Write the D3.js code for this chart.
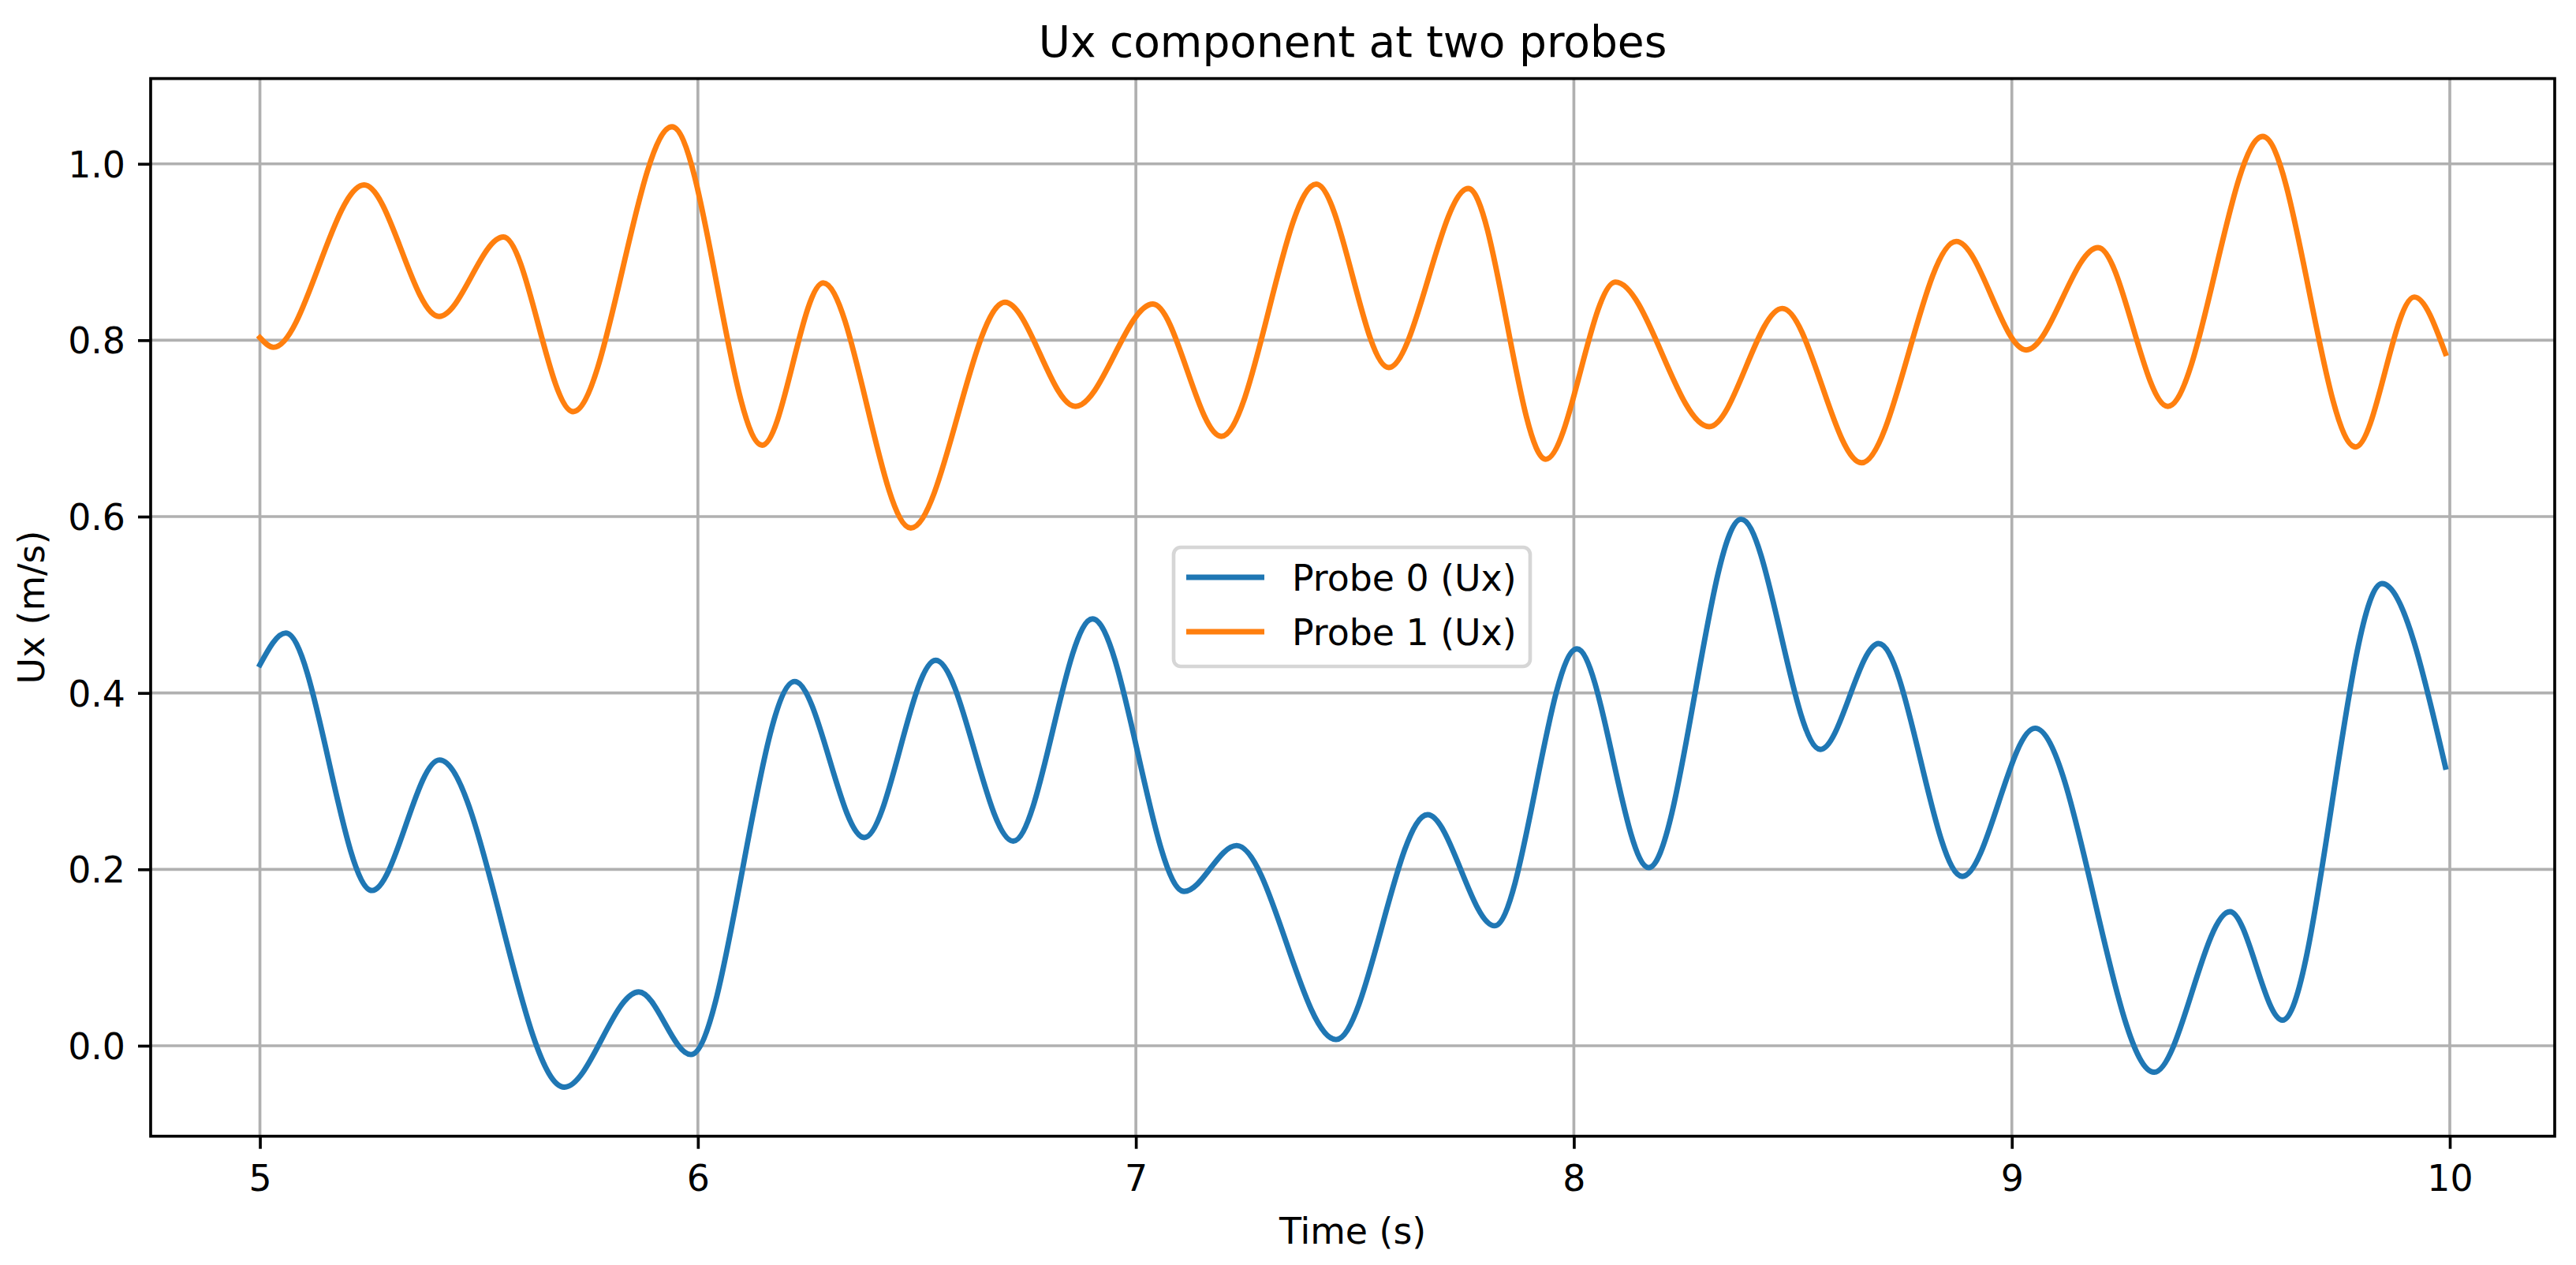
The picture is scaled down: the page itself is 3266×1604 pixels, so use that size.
<!DOCTYPE html>
<html>
<head>
    <style>
        body { margin: 0; background: white; }
        svg { display: block; }
        text { font-family: "DejaVu Sans", sans-serif; fill: black; }
    </style>
</head>
<body>
    <script src="https://d3js.org/d3.v7.min.js"></script>

    <script>
        const width = 3266;
        const height = 1604;

        // plot area (px)
        const pLeft = 191, pRight = 3239, pTop = 99.6, pBottom = 1440.7;

        // data (turning points of each trace)
        const time0 = [5.000, 5.059, 5.256, 5.410, 5.695, 5.865, 5.984, 6.221, 6.380, 6.543,
                       6.720, 6.901, 7.110, 7.230, 7.457, 7.666, 7.819, 8.007, 8.171,
                       8.382, 8.563, 8.696, 8.887, 9.053, 9.325, 9.498, 9.618, 9.845, 9.990];
        const probe0 = [0.432, 0.468, 0.176, 0.324, -0.047, 0.061, -0.010, 0.413, 0.236, 0.437,
                        0.232, 0.484, 0.175, 0.227, 0.007, 0.262, 0.136, 0.450, 0.202,
                        0.597, 0.336, 0.456, 0.192, 0.360, -0.030, 0.152, 0.029, 0.524, 0.316];

        const time1 = [5.000, 5.031, 5.238, 5.409, 5.556, 5.715, 5.941, 6.147, 6.286, 6.486,
                       6.701, 6.862, 7.039, 7.195, 7.412, 7.577, 7.759, 7.936, 8.095,
                       8.309, 8.476, 8.657, 8.873, 9.033, 9.197, 9.356, 9.573, 9.785, 9.919, 9.990];
        const probe1 = [0.803, 0.792, 0.976, 0.827, 0.917, 0.719, 1.042, 0.681, 0.865, 0.587,
                        0.843, 0.725, 0.841, 0.691, 0.977, 0.769, 0.972, 0.665, 0.866,
                        0.702, 0.836, 0.661, 0.912, 0.789, 0.905, 0.725, 1.031, 0.679, 0.849, 0.785];

        const seriesNames = ["Probe 0 (Ux)", "Probe 1 (Ux)"];
        const colors = ["#1f77b4", "#ff7f0e"];
        const xTicks = [5, 6, 7, 8, 9, 10];
        const yTicks = [0.0, 0.2, 0.4, 0.6, 0.8, 1.0];

        const series = [
            time0.map((t, i) => [t, probe0[i]]),
            time1.map((t, i) => [t, probe1[i]])
        ];

        const lw = 6.9;      // 1.5pt
        const thin = 3.67;   // 0.8pt
        const fs = 45.8;     // 10pt
        const tickLen = 16;

        const x = d3.scaleLinear().domain([4.7505, 10.2395]).range([pLeft, pRight]);
        const y = d3.scaleLinear().domain([-0.1026, 1.0967]).range([pBottom, pTop]);

        const svg = d3.select("body").append("svg").attr("width", width).attr("height", height);

        // grid
        svg.append("g").selectAll("line").data(xTicks).enter().append("line")
            .attr("x1", d => x(d)).attr("x2", d => x(d))
            .attr("y1", pTop).attr("y2", pBottom)
            .attr("stroke", "#b0b0b0").attr("stroke-width", thin);
        svg.append("g").selectAll("line").data(yTicks).enter().append("line")
            .attr("x1", pLeft).attr("x2", pRight)
            .attr("y1", d => y(d)).attr("y2", d => y(d))
            .attr("stroke", "#b0b0b0").attr("stroke-width", thin);

        // lines
        const line = d3.line().x(d => x(d[0])).y(d => y(d[1])).curve(d3.curveMonotoneX);
        svg.append("g").selectAll("path").data(series).enter().append("path")
            .attr("d", line)
            .attr("fill", "none")
            .attr("stroke", (d, i) => colors[i])
            .attr("stroke-width", lw)
            .attr("stroke-linejoin", "round")
            .attr("stroke-linecap", "square");

        // spines
        svg.append("rect")
            .attr("x", pLeft).attr("y", pTop)
            .attr("width", pRight - pLeft).attr("height", pBottom - pTop)
            .attr("fill", "none").attr("stroke", "black").attr("stroke-width", thin);

        // x axis
        const xAxis = svg.append("g")
            .attr("transform", `translate(0,${pBottom})`)
            .call(d3.axisBottom(x).tickValues(xTicks).tickFormat(d3.format("d"))
                .tickSizeInner(tickLen).tickSizeOuter(0).tickPadding(16));
        xAxis.select(".domain").remove();
        xAxis.selectAll(".tick line").attr("stroke", "black").attr("stroke-width", thin);
        xAxis.selectAll(".tick text").attr("font-size", fs).attr("font-family", "DejaVu Sans")
            .attr("dy", null).attr("y", 69);

        // y axis
        const yAxis = svg.append("g")
            .attr("transform", `translate(${pLeft},0)`)
            .call(d3.axisLeft(y).tickValues(yTicks).tickFormat(d3.format(".1f"))
                .tickSizeInner(tickLen).tickSizeOuter(0).tickPadding(16));
        yAxis.select(".domain").remove();
        yAxis.selectAll(".tick line").attr("stroke", "black").attr("stroke-width", thin);
        yAxis.selectAll(".tick text").attr("font-size", fs).attr("font-family", "DejaVu Sans")
            .attr("dy", null).attr("y", 16.5);

        // labels
        svg.append("text").attr("x", (pLeft + pRight) / 2).attr("y", 71.5)
            .attr("text-anchor", "middle").attr("font-size", 55)
            .text("Ux component at two probes");
        svg.append("text").attr("x", (pLeft + pRight) / 2).attr("y", 1577)
            .attr("text-anchor", "middle").attr("font-size", fs)
            .text("Time (s)");
        svg.append("text")
            .attr("transform", `translate(56,${(pTop + pBottom) / 2}) rotate(-90)`)
            .attr("text-anchor", "middle").attr("font-size", fs)
            .text("Ux (m/s)");

        // legend
        const lg = svg.append("g").attr("transform", "translate(1488,694)");
        lg.append("rect")
            .attr("width", 452).attr("height", 151).attr("rx", 9)
            .attr("fill", "white").attr("fill-opacity", 0.8)
            .attr("stroke", "#cccccc").attr("stroke-opacity", 0.8).attr("stroke-width", 4.6);
        seriesNames.forEach((name, i) => {
            const cy = 38 + i * 69;
            lg.append("line")
                .attr("x1", 16).attr("x2", 115).attr("y1", cy).attr("y2", cy)
                .attr("stroke", colors[i]).attr("stroke-width", lw);
            lg.append("text").attr("x", 150).attr("y", cy + 16.5)
                .attr("font-size", fs).text(name);
        });
    </script>
</body>
</html>
